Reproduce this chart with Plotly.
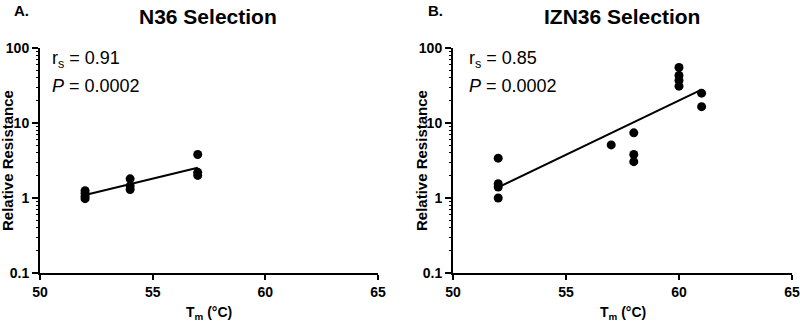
import numpy as np
import plotly.graph_objects as go

# ---- data ----
tm_a = [52, 52, 52, 52, 54, 54, 54, 57, 57, 57]
res_a = [0.98, 1.05, 1.15, 1.25, 1.3, 1.45, 1.8, 2.0, 2.2, 3.8]

tm_b = [52, 52, 52, 52, 57, 58, 58, 58, 60, 60, 60, 60, 61, 61]
res_b = [3.4, 1.55, 1.4, 1.0, 5.1, 7.4, 3.8, 3.05, 55, 43, 37, 31, 25, 16.5]

titles = ["N36 Selection", "IZN36 Selection"]
panel_labels = ["A.", "B."]
stats = [("0.91", "0.0002"), ("0.85", "0.0002")]
x_ticks = [50, 55, 60, 65]
y_ticks = [0.1, 1, 10, 100]
y_ticktext = ["0.1", "1", "10", "100"]

W, H = 800, 324
FONT = "Liberation Sans, Arial, sans-serif"


def py(px):
    return 1 - px / H


def fit_line(x, y):
    x = np.asarray(x, float)
    ly = np.log10(np.asarray(y, float))
    k, b = np.polyfit(x, ly, 1)
    xs = np.array([x.min(), x.max()])
    return xs, 10 ** (k * xs + b)


fig = go.Figure()

x_domains = [[40 / W, 378 / W], [453 / W, 792 / W]]
y_domain = [py(273), py(48)]

minor_vals = [m * 10.0 ** k for k in range(-1, 2) for m in range(2, 10)]

datasets = [(tm_a, res_a), (tm_b, res_b)]
for i, (xv, yv) in enumerate(datasets):
    xa = "x" if i == 0 else "x2"
    ya = "y" if i == 0 else "y2"
    lx, ly = fit_line(xv, yv)
    fig.add_trace(go.Scatter(x=lx, y=ly, mode="lines",
                             line=dict(color="black", width=2),
                             xaxis=xa, yaxis=ya, showlegend=False, hoverinfo="skip"))
    fig.add_trace(go.Scatter(x=xv, y=yv, mode="markers",
                             marker=dict(color="black", size=9),
                             xaxis=xa, yaxis=ya, showlegend=False))

tickfont = dict(family=FONT, size=14, color="black", weight="bold")
axis_common = dict(showline=True, linecolor="black", linewidth=2, ticks="outside",
                   tickcolor="black", tickwidth=2, showgrid=False, zeroline=False,
                   automargin=False, tickfont=tickfont)

for i in range(2):
    sfx = "" if i == 0 else "2"
    fig.layout["xaxis" + sfx] = dict(
        domain=x_domains[i], anchor="y" + sfx, range=[50, 65],
        tickvals=x_ticks, ticklen=5, **axis_common)
    fig.layout["yaxis" + sfx] = dict(
        domain=y_domain, anchor="x" + sfx, type="log", range=[-1, 2],
        tickvals=y_ticks, ticktext=y_ticktext, ticklen=6, **axis_common)
    # minor ticks via an overlaying log axis
    msfx = str(3 + i)
    fig.layout["yaxis" + msfx] = dict(
        domain=y_domain, anchor="x" + sfx, overlaying="y" + sfx, type="log",
        range=[-1, 2], tickvals=minor_vals, showticklabels=False, ticks="outside",
        ticklen=3, tickwidth=1, tickcolor="black", showline=False, showgrid=False,
        zeroline=False, automargin=False, side="left")

# invisible traces so the minor-tick axes render
for i in range(2):
    fig.add_trace(go.Scatter(x=[None], y=[None], xaxis="x" if i == 0 else "x2",
                             yaxis="y" + str(3 + i), showlegend=False, hoverinfo="skip"))

annotations = []
title_cx = [208, 622]
label_x = [12, 426]
stat_x = [50, 467]
ytitle_x = [7, 421]
for i in range(2):
    annotations.append(dict(text=f"<b>{titles[i]}</b>", x=title_cx[i] / W, y=py(16),
                            xref="paper", yref="paper", xanchor="center", yanchor="middle",
                            showarrow=False, font=dict(family=FONT, size=21, color="black")))
    annotations.append(dict(text=f"<b>{panel_labels[i]}</b>", x=label_x[i] / W, y=py(10),
                            xref="paper", yref="paper", xanchor="left", yanchor="middle",
                            showarrow=False, font=dict(family=FONT, size=15, color="black")))
    annotations.append(dict(text=f"r<sub>s</sub> = {stats[i][0]}", x=stat_x[i] / W, y=py(60),
                            xref="paper", yref="paper", xanchor="left", yanchor="middle",
                            showarrow=False, font=dict(family=FONT, size=18, color="black")))
    annotations.append(dict(text=f"<i>P</i> = {stats[i][1]}", x=stat_x[i] / W, y=py(86),
                            xref="paper", yref="paper", xanchor="left", yanchor="middle",
                            showarrow=False, font=dict(family=FONT, size=18, color="black")))
    annotations.append(dict(text="<b>Relative Resistance</b>", x=ytitle_x[i] / W, y=py(161),
                            xref="paper", yref="paper", xanchor="center", yanchor="middle",
                            textangle=-90, showarrow=False,
                            font=dict(family=FONT, size=15, color="black")))
    annotations.append(dict(text="<b>T<sub>m</sub> (°C)</b>",
                            x=(x_domains[i][0] + x_domains[i][1]) / 2, y=py(313),
                            xref="paper", yref="paper", xanchor="center", yanchor="middle",
                            showarrow=False, font=dict(family=FONT, size=14, color="black")))

fig.update_layout(width=W, height=H, margin=dict(l=0, r=0, t=0, b=0),
                  paper_bgcolor="white", plot_bgcolor="white",
                  annotations=annotations)

fig.write_html("out.html", config={"displayModeBar": False},
               post_script="document.body.style.margin='0';document.body.style.padding='0';")
